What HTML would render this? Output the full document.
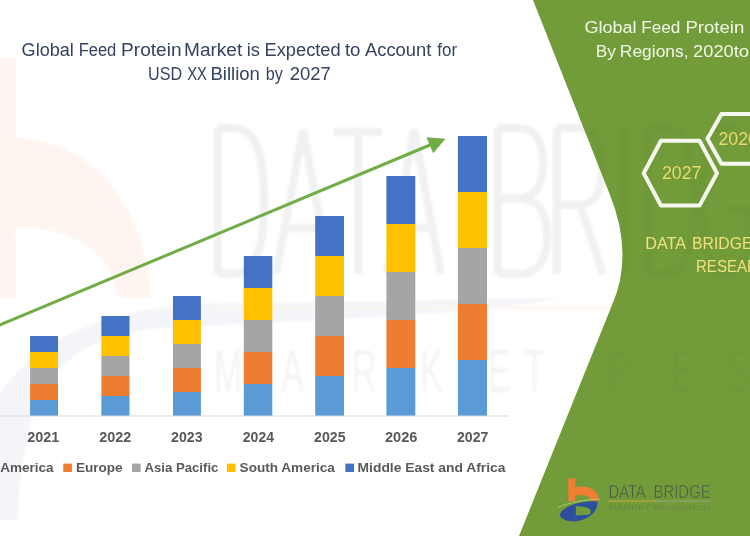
<!DOCTYPE html>
<html><head><meta charset="utf-8">
<style>
html,body{margin:0;padding:0;width:750px;height:536px;overflow:hidden;background:#fff;}
svg{display:block;font-family:"Liberation Sans",sans-serif;will-change:transform;filter:blur(0.4px);}
</style></head>
<body>
<svg width="750" height="536" viewBox="0 0 750 536">
<defs><filter id="bl" x="-10%" y="-10%" width="120%" height="120%"><feGaussianBlur stdDeviation="1.2"/></filter></defs>
<rect x="0" y="0" width="750" height="536" fill="#ffffff"/>

<g id="wm" filter="url(#bl)">
  <path d="M-10,58 L15.7,58 L15.7,138 C90,140 145,200 151,298 L-10,298 Z M15.7,228 C70,226 110,250 118,298 L15.7,298 Z" fill="#FEF5F0" fill-rule="evenodd"/>
  <path d="M-40,520 C-30,380 50,312 200,304 L560,298 C470,316 300,320 160,328 C50,338 22,400 18,520 Z" fill="#F3F5F9"/>
  <rect x="212" y="306.5" width="400" height="3" fill="#FDF6F0"/>
  <g fill="none" stroke="#F1F1F1" stroke-width="8">
    <path d="M218,128 L218,274 M218,128 L234,128 C258,128 264,160 264,201 C264,242 258,274 234,274 L218,274"/>
    <path d="M276,274 L303,130 L330,274 M285,228 L321,228"/>
    <path d="M334,132 L382,132 M358,132 L358,274"/>
    <path d="M387,274 L414,130 L441,274 M396,228 L432,228"/>
    <path d="M498,128 L498,274 M498,128 L518,128 C538,128 543,146 543,164 C543,184 536,198 518,198 L498,198 M518,198 C540,198 547,216 547,236 C547,260 538,274 518,274 L498,274"/>
    <path d="M557,128 L557,274 M557,128 L577,128 C597,128 602,146 602,168 C602,192 595,205 577,205 L557,205 M580,205 L603,274"/>
  </g>
  <g fill="#F4F4F4" font-size="62">
    <text x="214" y="392" transform="translate(214 392) scale(0.55 1) translate(-214 -392)">M</text>
    <text x="281" y="392" transform="translate(281 392) scale(0.55 1) translate(-281 -392)">A</text>
    <text x="352" y="392" transform="translate(352 392) scale(0.55 1) translate(-352 -392)">R</text>
    <text x="420" y="392" transform="translate(420 392) scale(0.55 1) translate(-420 -392)">K</text>
    <text x="488" y="392" transform="translate(488 392) scale(0.55 1) translate(-488 -392)">E</text>
    <text x="524" y="392" transform="translate(524 392) scale(0.55 1) translate(-524 -392)">T</text>
  </g>
</g>

<g font-size="18" fill="#34435F">
<text x="21.60" y="55.5" textLength="52.21" lengthAdjust="spacingAndGlyphs">Global</text>
<text x="78.64" y="55.5" textLength="37.70" lengthAdjust="spacingAndGlyphs">Feed</text>
<text x="121.14" y="55.5" textLength="60.39" lengthAdjust="spacingAndGlyphs">Protein</text>
<text x="184.04" y="55.5" textLength="58.22" lengthAdjust="spacingAndGlyphs">Market</text>
<text x="246.70" y="55.5" textLength="13.16" lengthAdjust="spacingAndGlyphs">is</text>
<text x="264.50" y="55.5" textLength="76.16" lengthAdjust="spacingAndGlyphs">Expected</text>
<text x="344.90" y="55.5" textLength="15.58" lengthAdjust="spacingAndGlyphs">to</text>
<text x="364.96" y="55.5" textLength="66.37" lengthAdjust="spacingAndGlyphs">Account</text>
<text x="437.36" y="55.5" textLength="19.72" lengthAdjust="spacingAndGlyphs">for</text>
<text x="148.04" y="79.8" textLength="34.02" lengthAdjust="spacingAndGlyphs">USD</text>
<text x="187.14" y="79.8" textLength="19.85" lengthAdjust="spacingAndGlyphs">XX</text>
<text x="210.48" y="79.8" textLength="49.40" lengthAdjust="spacingAndGlyphs">Billion</text>
<text x="265.67" y="79.8" textLength="17.07" lengthAdjust="spacingAndGlyphs">by</text>
<text x="289.78" y="79.8" textLength="41.06" lengthAdjust="spacingAndGlyphs">2027</text>
</g>

<g id="bars">
<rect x="30.1" y="400" width="27.9" height="16" fill="#5B9BD5"/>
<rect x="30.1" y="384" width="27.9" height="16" fill="#ED7D31"/>
<rect x="30.1" y="368" width="27.9" height="16" fill="#A5A5A5"/>
<rect x="30.1" y="352" width="27.9" height="16" fill="#FFC000"/>
<rect x="30.1" y="336" width="27.9" height="16" fill="#4472C4"/>
<rect x="101.4" y="396" width="28.1" height="20" fill="#5B9BD5"/>
<rect x="101.4" y="376" width="28.1" height="20" fill="#ED7D31"/>
<rect x="101.4" y="356" width="28.1" height="20" fill="#A5A5A5"/>
<rect x="101.4" y="336" width="28.1" height="20" fill="#FFC000"/>
<rect x="101.4" y="316" width="28.1" height="20" fill="#4472C4"/>
<rect x="173.0" y="392" width="27.9" height="24" fill="#5B9BD5"/>
<rect x="173.0" y="368" width="27.9" height="24" fill="#ED7D31"/>
<rect x="173.0" y="344" width="27.9" height="24" fill="#A5A5A5"/>
<rect x="173.0" y="320" width="27.9" height="24" fill="#FFC000"/>
<rect x="173.0" y="296" width="27.9" height="24" fill="#4472C4"/>
<rect x="243.8" y="384" width="28.5" height="32" fill="#5B9BD5"/>
<rect x="243.8" y="352" width="28.5" height="32" fill="#ED7D31"/>
<rect x="243.8" y="320" width="28.5" height="32" fill="#A5A5A5"/>
<rect x="243.8" y="288" width="28.5" height="32" fill="#FFC000"/>
<rect x="243.8" y="256" width="28.5" height="32" fill="#4472C4"/>
<rect x="315.2" y="376" width="28.8" height="40" fill="#5B9BD5"/>
<rect x="315.2" y="336" width="28.8" height="40" fill="#ED7D31"/>
<rect x="315.2" y="296" width="28.8" height="40" fill="#A5A5A5"/>
<rect x="315.2" y="256" width="28.8" height="40" fill="#FFC000"/>
<rect x="315.2" y="216" width="28.8" height="40" fill="#4472C4"/>
<rect x="386.4" y="368" width="28.9" height="48" fill="#5B9BD5"/>
<rect x="386.4" y="320" width="28.9" height="48" fill="#ED7D31"/>
<rect x="386.4" y="272" width="28.9" height="48" fill="#A5A5A5"/>
<rect x="386.4" y="224" width="28.9" height="48" fill="#FFC000"/>
<rect x="386.4" y="176" width="28.9" height="48" fill="#4472C4"/>
<rect x="457.9" y="360" width="29.1" height="56" fill="#5B9BD5"/>
<rect x="457.9" y="304" width="29.1" height="56" fill="#ED7D31"/>
<rect x="457.9" y="248" width="29.1" height="56" fill="#A5A5A5"/>
<rect x="457.9" y="192" width="29.1" height="56" fill="#FFC000"/>
<rect x="457.9" y="136" width="29.1" height="56" fill="#4472C4"/>
</g>
<rect x="0" y="415.5" width="508.7" height="1" fill="#D9D9D9"/>

<g font-size="14" font-weight="bold" fill="#595959">
<text x="27.21" y="441.5" textLength="32.10" lengthAdjust="spacingAndGlyphs">2021</text>
<text x="99.31" y="441.5" textLength="31.97" lengthAdjust="spacingAndGlyphs">2022</text>
<text x="171.12" y="441.5" textLength="31.40" lengthAdjust="spacingAndGlyphs">2023</text>
<text x="242.82" y="441.5" textLength="31.17" lengthAdjust="spacingAndGlyphs">2024</text>
<text x="314.12" y="441.5" textLength="31.49" lengthAdjust="spacingAndGlyphs">2025</text>
<text x="385.01" y="441.5" textLength="32.33" lengthAdjust="spacingAndGlyphs">2026</text>
<text x="457.02" y="441.5" textLength="31.31" lengthAdjust="spacingAndGlyphs">2027</text>
</g>

<g font-size="13" font-weight="bold" fill="#595959">
<text x="0.15" y="471.5" textLength="53.48" lengthAdjust="spacingAndGlyphs">America</text>
<text x="75.90" y="471.5" textLength="46.77" lengthAdjust="spacingAndGlyphs">Europe</text>
<text x="144.56" y="471.5" textLength="73.84" lengthAdjust="spacingAndGlyphs">Asia Pacific</text>
<text x="239.59" y="471.5" textLength="95.33" lengthAdjust="spacingAndGlyphs">South America</text>
<text x="357.59" y="471.5" textLength="147.92" lengthAdjust="spacingAndGlyphs">Middle East and Africa</text>
</g>
<rect x="63.3" y="463.6" width="8.6" height="8.4" fill="#ED7D31"/>
<rect x="132" y="463.6" width="8.6" height="8.4" fill="#A5A5A5"/>
<rect x="226.9" y="463.6" width="8.6" height="8.4" fill="#FFC000"/>
<rect x="345.4" y="463.6" width="8.6" height="8.4" fill="#4472C4"/>

<line x1="-2" y1="325.8" x2="430" y2="145" stroke="#70AD47" stroke-width="3"/>
<polygon points="445.5,138.7 426.4,137.3 433.2,153.3" fill="#70AD47"/>

<path d="M533,0 L610,195 Q634,255 612,305 L519,536 L750,536 L750,0 Z" fill="#729C3A"/>

<clipPath id="gc"><path d="M533,0 L610,195 Q634,255 612,305 L519,536 L750,536 L750,0 Z"/></clipPath>
<g clip-path="url(#gc)"><g filter="url(#bl)" fill="none" stroke="#000" stroke-opacity="0.028" stroke-width="8">
    <path d="M557,128 L557,274 M557,128 L577,128 C597,128 602,146 602,168 C602,192 595,205 577,205 L557,205 M580,205 L603,274"/>
    <path d="M624,128 L624,274"/>
    <path d="M648,128 L648,274 M648,128 L664,128 C688,128 694,160 694,201 C694,242 688,274 664,274 L648,274"/>
    <path d="M748,150 C742,132 732,128 726,128 C708,128 702,160 702,201 C702,242 708,274 726,274 C740,274 748,260 748,235 L748,210 L728,210"/>
  </g>
  <g filter="url(#bl)" fill="#000" fill-opacity="0.022" font-size="62">
    <text x="606" y="392" transform="translate(606 392) scale(0.55 1) translate(-606 -392)">R</text>
    <text x="672" y="392" transform="translate(672 392) scale(0.55 1) translate(-672 -392)">E</text>
    <text x="728" y="392" transform="translate(728 392) scale(0.55 1) translate(-728 -392)">S</text>
  </g>
</g>

<g font-size="16.8" fill="#F2F7E8">
<text x="584.40" y="33.1" textLength="52.10" lengthAdjust="spacingAndGlyphs">Global</text>
<text x="641.29" y="33.1" textLength="39.09" lengthAdjust="spacingAndGlyphs">Feed</text>
<text x="685.48" y="33.1" textLength="58.82" lengthAdjust="spacingAndGlyphs">Protein</text>
<text x="595.89" y="56.6" textLength="20.13" lengthAdjust="spacingAndGlyphs">By</text>
<text x="619.87" y="56.6" textLength="68.71" lengthAdjust="spacingAndGlyphs">Regions,</text>
<text x="693.09" y="56.6" textLength="40.62" lengthAdjust="spacingAndGlyphs">2020</text>
<text x="733.70" y="56.6" textLength="15.58" lengthAdjust="spacingAndGlyphs">to</text>
</g>

<g fill="none" stroke="#F6F8F0" stroke-width="4" stroke-linejoin="round">
  <polygon points="643.7,173.2 661,140.7 699.5,140.7 717,173.2 699.5,205.6 661,205.6"/>
  <polygon points="707.5,138.8 721.5,114 751,114 765,138.8 751,163.7 721.5,163.7"/>
</g>
<g font-size="17.5" fill="#E9DB6E">
  <text x="661.9" y="179.4" textLength="39.6" lengthAdjust="spacingAndGlyphs">2027</text>
  <text x="718.4" y="145.4" textLength="39.6" lengthAdjust="spacingAndGlyphs">2020</text>
</g>
<g font-size="17" fill="#F0E07E">
  <text x="645.2" y="248.5" textLength="40.8" lengthAdjust="spacingAndGlyphs">DATA</text>
  <text x="692.1" y="248.5" textLength="60.4" lengthAdjust="spacingAndGlyphs">BRIDGE</text>
  <text x="696" y="272.2" textLength="83.6" lengthAdjust="spacingAndGlyphs">RESEARCH</text>
</g>

<g id="logo">
  <path d="M568.3,478.5 L575.3,478.5 L575.3,487.3 C589,484.5 598.6,490 598.6,500.7 L591.2,500.7 C590.5,496 585,494.8 575.3,495.6 L575.3,501 L568.3,501 Z" fill="#F07F35"/>
  <path d="M559.6,515.3 C562,506 580,501 597.5,501.3 C598,510 592,518 577,521.3 C570,522 563,521 559.6,515.3 Z M575.8,506.3 L575.8,515.5 L589.5,514.8 C592.5,510.5 591,506.5 575.8,506.3 Z" fill="#2E4F9E" fill-rule="evenodd"/>
  <path d="M558,507.5 C570,502 585,499.5 600,499" fill="none" stroke="#C9C97A" stroke-width="0.8"/>
  <g font-size="17.5" fill="#4B5A48" stroke="#729C3A" stroke-width="0.45">
    <text x="608.5" y="497.6" textLength="37.2" lengthAdjust="spacingAndGlyphs">DATA</text>
    <text x="653.5" y="497.6" textLength="57.2" lengthAdjust="spacingAndGlyphs">BRIDGE</text>
  </g>
  <rect x="608" y="500.6" width="48" height="1" fill="#D7A545"/>
  <rect x="656" y="500.6" width="55" height="1" fill="#93A57E"/>
  <text x="608.5" y="510.3" font-size="6.5" fill="#5E7350" fill-opacity="0.55" textLength="102" lengthAdjust="spacingAndGlyphs">MARKET  RESEARCH</text>
</g>
</svg>
</body></html>
